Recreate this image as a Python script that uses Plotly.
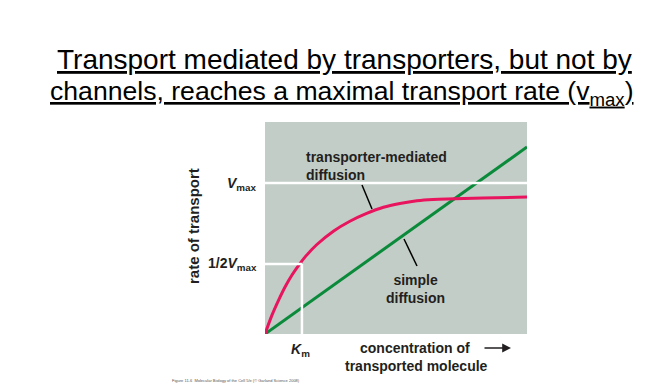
import plotly.graph_objects as go

# ---- data ----
conc_transporter = [0, 0.27, 0.52, 0.77, 1.03, 1.29, 1.54, 1.97, 2.61, 3.24, 3.88, 4.52, 5.15, 5.80, 6.41, 7.25, 8.32, 10]
rate_transporter = [0, 0.90, 1.60, 2.23, 2.78, 3.25, 3.65, 4.21, 4.85, 5.32, 5.69, 5.98, 6.16, 6.29, 6.35, 6.38, 6.42, 6.46]
conc_simple = [0, 10]
rate_simple = [0, 8.82]
VMAX = 7.12
HALF_VMAX = 3.30
KM = 1.41

# ---- geometry ----
W, H = 668, 386
L, R, T, B = 265, 527, 122, 334


def px(x):
    return (x - L) / (R - L)


def py(y):
    return (B - y) / (B - T)


def dx(x):
    return (x - L) / (R - L) * 10


def dy(y):
    return (B - y) / (B - T) * 10


LBL = dict(family="Liberation Sans, Arial, sans-serif", size=14, color="#231f20")
fig = go.Figure()

# white guide lines
fig.add_shape(type="line", x0=0, x1=10, y0=VMAX, y1=VMAX, line=dict(color="white", width=2.5))
fig.add_shape(type="line", x0=0, x1=KM, y0=HALF_VMAX, y1=HALF_VMAX, line=dict(color="white", width=2.5))
fig.add_shape(type="line", x0=KM, x1=KM, y0=0, y1=HALF_VMAX, line=dict(color="white", width=2.5))

fig.add_trace(go.Scatter(x=conc_simple, y=rate_simple, mode="lines",
                         line=dict(color="#0a8a3a", width=3), hoverinfo="skip"))
fig.add_trace(go.Scatter(x=conc_transporter, y=rate_transporter, mode="lines",
                         line=dict(color="#e8145e", width=3, shape="spline", smoothing=1.0),
                         hoverinfo="skip"))

# leader lines
fig.add_shape(type="line", x0=dx(362), y0=dy(185), x1=dx(372), y1=dy(209), line=dict(color="black", width=1.5))
fig.add_shape(type="line", x0=dx(404), y0=dy(239), x1=dx(417), y1=dy(266), line=dict(color="black", width=1.5))

ann = []


def add(text, x, y, xanchor="center", yanchor="middle", font=LBL, align="center", **kw):
    ann.append(dict(text=text, x=px(x), y=py(y), xref="paper", yref="paper",
                    xanchor=xanchor, yanchor=yanchor, showarrow=False, font=font,
                    align=align, **kw))


add("<b>transporter-mediated<br>diffusion</b>", 304, 166, xanchor="left", align="left")
add("<b>simple<br>diffusion</b>", 415, 289)
add("<b><i>V</i><sub>max</sub></b>", 259, 184, xanchor="right")
add("<b>1/2<i>V</i><sub>max</sub></b>", 259, 264, xanchor="right")
add("<b>rate of transport</b>", 193, 226, textangle=-90,
    font=dict(family="Liberation Sans, Arial, sans-serif", size=15, color="#231f20"))
add("<b><i>K</i><sub>m</sub></b>", 300, 350)
add("<b>concentration of</b>", 415, 348)
add("<b>transported molecule</b>", 416, 366)
add("Figure 11-6  Molecular Biology of the Cell 5/e (© Garland Science 2008)", 170, 380,
    xanchor="left", font=dict(family="Liberation Sans, Arial, sans-serif", size=4, color="#555"))

# arrow
ann.append(dict(text="", x=px(511), y=py(348), xref="paper", yref="paper",
                ax=-28, ay=0, showarrow=True, arrowhead=2, arrowsize=1.1, arrowwidth=1.6,
                arrowcolor="#231f20"))

# title
add("<u>Transport mediated by transporters, but not by</u>", 344, 60,
    font=dict(family="Liberation Sans, Arial, sans-serif", size=28, color="black"))
add("<u>channels, reaches a maximal transport rate (v<sub>max</sub>)</u>", 342, 93,
    font=dict(family="Liberation Sans, Arial, sans-serif", size=26.6, color="black"))

fig.update_layout(
    width=W, height=H,
    margin=dict(l=L, r=W - R, t=T, b=H - B, pad=0),
    paper_bgcolor="white", plot_bgcolor="#c2cdc7",
    showlegend=False, annotations=ann,
    xaxis=dict(range=[0, 10], showgrid=False, zeroline=False, showticklabels=False, ticks="", fixedrange=True),
    yaxis=dict(range=[0, 10], showgrid=False, zeroline=False, showticklabels=False, ticks="", fixedrange=True),
)

fig.write_html("out.html")
